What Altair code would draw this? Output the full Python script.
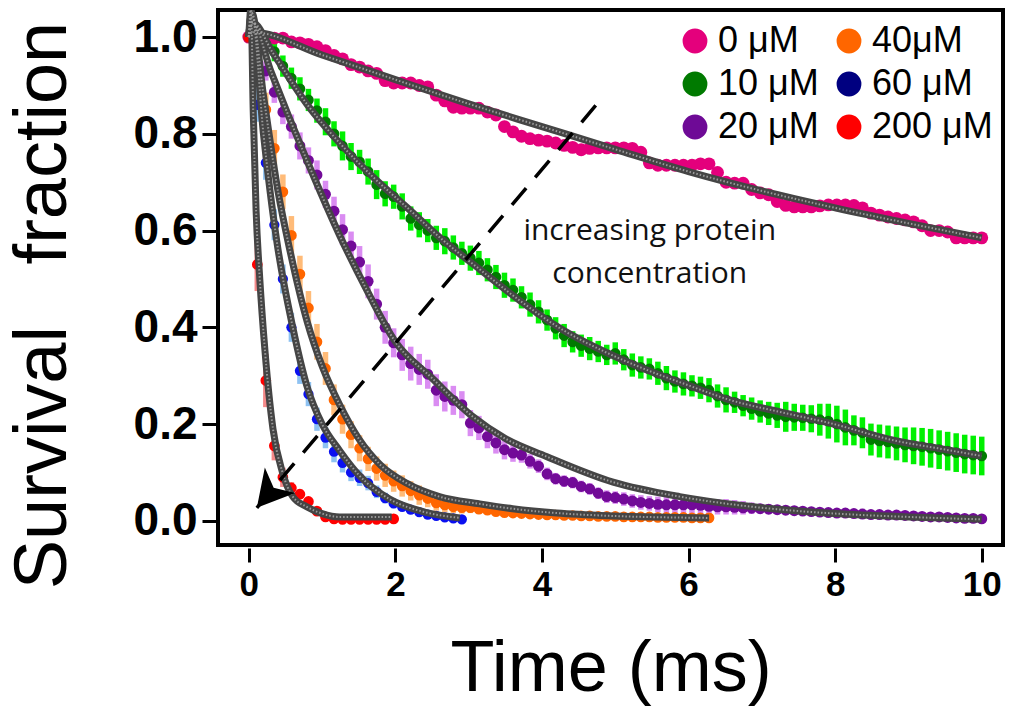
import altair as alt
import pandas as pd

# ---------------- data ----------------
DT = 10 / 86  # sampling step of the traces (ms)

series = ["0 μM", "10 μM", "20 μM", "40μM", "60 μM", "200 μM"]
legend_colors = ["#E4007C", "#007A00", "#6E0A96", "#FF6600", "#000080", "#FF0000"]
dot_colors = {"0 μM": "#E4007C", "10 μM": "#007A00", "20 μM": "#720A98",
              "40μM": "#FF6600", "60 μM": "#0A10F0", "200 μM": "#FF0000"}
err_colors = {"10 μM": "#00F000", "20 μM": "#DA8CF2", "40μM": "#FFBB78",
              "60 μM": "#8EC2F2", "200 μM": "#F58A8A"}
dot_sizes = {"0 μM": 165, "10 μM": 115, "20 μM": 120, "40μM": 115, "60 μM": 105, "200 μM": 115}

pink_vals = [1.000, 1.000, 0.997, 0.998, 0.998, 0.990, 0.988, 0.985, 0.980, 0.972,
             0.962, 0.955, 0.943, 0.938, 0.930, 0.925, 0.910, 0.905, 0.905, 0.905,
             0.900, 0.897, 0.880, 0.868, 0.855, 0.853, 0.853, 0.853, 0.845, 0.839,
             0.815, 0.804, 0.795, 0.790, 0.787, 0.785, 0.781, 0.776, 0.772, 0.767,
             0.770, 0.771, 0.771, 0.771, 0.771, 0.770, 0.762, 0.740, 0.735, 0.735,
             0.735, 0.735, 0.735, 0.738, 0.738, 0.720, 0.700, 0.698, 0.698, 0.685,
             0.678, 0.674, 0.660, 0.652, 0.649, 0.649, 0.649, 0.651, 0.653, 0.653,
             0.653, 0.652, 0.647, 0.636, 0.632, 0.628, 0.625, 0.622, 0.618, 0.610,
             0.600, 0.600, 0.597, 0.585, 0.585, 0.585, 0.585]

green_vals = [1.000, 0.995, 0.985, 0.970, 0.940, 0.915, 0.893, 0.870, 0.848, 0.825,
              0.800, 0.775, 0.753, 0.742, 0.722, 0.695, 0.676, 0.670, 0.650, 0.625,
              0.612, 0.600, 0.585, 0.578, 0.565, 0.553, 0.543, 0.533, 0.519, 0.504,
              0.487, 0.477, 0.462, 0.447, 0.432, 0.415, 0.398, 0.383, 0.370, 0.362,
              0.356, 0.350, 0.343, 0.346, 0.333, 0.322, 0.317, 0.314, 0.305, 0.295,
              0.288, 0.283, 0.279, 0.275, 0.270, 0.258, 0.250, 0.245, 0.238, 0.232,
              0.226, 0.222, 0.218, 0.215, 0.214, 0.213, 0.211, 0.209, 0.206, 0.200,
              0.193, 0.187, 0.182, 0.168, 0.165, 0.163, 0.160, 0.157, 0.155, 0.153,
              0.150, 0.147, 0.144, 0.141, 0.138, 0.136, 0.134]
green_err = [0.005, 0.010, 0.015, 0.020, 0.022, 0.022, 0.024, 0.023, 0.025, 0.028,
             0.026, 0.030, 0.028, 0.025, 0.027, 0.030, 0.026, 0.025, 0.027, 0.025,
             0.026, 0.024, 0.025, 0.027, 0.025, 0.024, 0.026, 0.025, 0.024, 0.025,
             0.026, 0.024, 0.023, 0.025, 0.024, 0.022, 0.023, 0.024, 0.022, 0.023,
             0.024, 0.022, 0.021, 0.023, 0.022, 0.024, 0.023, 0.022, 0.024, 0.025,
             0.023, 0.024, 0.022, 0.023, 0.025, 0.024, 0.026, 0.022, 0.022, 0.023,
             0.023, 0.024, 0.026, 0.031, 0.028, 0.027, 0.028, 0.033, 0.036, 0.038,
             0.037, 0.031, 0.032, 0.033, 0.034, 0.034, 0.035, 0.036, 0.038, 0.039,
             0.040, 0.040, 0.040, 0.040, 0.040, 0.040, 0.040]

purple_vals = [1.000, 0.975, 0.930, 0.886, 0.845, 0.815, 0.775, 0.745, 0.715, 0.675,
               0.640, 0.602, 0.568, 0.535, 0.495, 0.448, 0.400, 0.368, 0.343, 0.325,
               0.313, 0.303, 0.270, 0.257, 0.249, 0.240, 0.202, 0.192, 0.174, 0.161,
               0.147, 0.140, 0.136, 0.123, 0.113, 0.097, 0.087, 0.082, 0.079, 0.071,
               0.066, 0.057, 0.050, 0.048, 0.045, 0.041, 0.038, 0.036, 0.034, 0.033,
               0.033, 0.033, 0.033, 0.032, 0.030, 0.029, 0.029, 0.028, 0.027, 0.026,
               0.025, 0.024, 0.023, 0.022, 0.021, 0.020, 0.019, 0.018, 0.017, 0.016,
               0.016, 0.015, 0.014, 0.013, 0.013, 0.012, 0.012, 0.011, 0.010, 0.009,
               0.008, 0.008, 0.007, 0.006, 0.005, 0.005, 0.004]
purple_err = [0.005, 0.015, 0.020, 0.022, 0.025, 0.025, 0.028, 0.027, 0.030, 0.028,
              0.030, 0.032, 0.030, 0.033, 0.035, 0.032, 0.034, 0.030, 0.033, 0.035,
              0.032, 0.030, 0.033, 0.031, 0.030, 0.028, 0.027, 0.025, 0.024, 0.022,
              0.020, 0.018, 0.016, 0.015, 0.014, 0.013, 0.012, 0.012, 0.012, 0.012,
              0.012, 0.012, 0.013, 0.013, 0.014, 0.014, 0.015, 0.015, 0.016, 0.017,
              0.017, 0.017, 0.017, 0.017, 0.016, 0.016, 0.016, 0.015, 0.014, 0.012,
              0.010, 0.010, 0.009, 0.009, 0.008, 0.008, 0.008, 0.008, 0.008, 0.008,
              0.008, 0.008, 0.008, 0.008, 0.008, 0.008, 0.008, 0.008, 0.008, 0.008,
              0.008, 0.008, 0.008, 0.008, 0.008, 0.008, 0.008]

orange_vals = [1.000, 0.930, 0.850, 0.770, 0.680, 0.590, 0.510, 0.440, 0.370, 0.315,
               0.250, 0.210, 0.178, 0.150, 0.128, 0.108, 0.094, 0.082, 0.072, 0.062,
               0.053, 0.046, 0.037, 0.033, 0.029, 0.027, 0.027, 0.024, 0.022, 0.019,
               0.017, 0.016, 0.015, 0.014, 0.013, 0.012, 0.012, 0.011, 0.011, 0.010,
               0.010, 0.009, 0.009, 0.009, 0.008, 0.008, 0.008, 0.008, 0.007, 0.007,
               0.007, 0.007, 0.006, 0.006, 0.006]
orange_err = [0.010, 0.030, 0.035, 0.038, 0.036, 0.040, 0.038, 0.035, 0.037, 0.034,
              0.032, 0.030, 0.028, 0.027, 0.025, 0.025, 0.024, 0.022, 0.022, 0.020,
              0.020, 0.018, 0.016, 0.015, 0.013, 0.012, 0.011, 0.010, 0.009, 0.008,
              0.008, 0.007, 0.007, 0.006, 0.006, 0.006, 0.005, 0.005, 0.005, 0.005,
              0.005, 0.005, 0.005, 0.005, 0.005, 0.005, 0.005, 0.005, 0.005, 0.005,
              0.005, 0.005, 0.005, 0.005, 0.005]

blue_vals = [1.000, 0.860, 0.740, 0.612, 0.500, 0.400, 0.310, 0.262, 0.210, 0.172,
             0.143, 0.120, 0.100, 0.089, 0.078, 0.060, 0.047, 0.036, 0.029, 0.023,
             0.018, 0.013, 0.010, 0.007, 0.005, 0.003]
blue_err = [0.010, 0.035, 0.035, 0.032, 0.030, 0.030, 0.027, 0.025, 0.024, 0.022,
            0.022, 0.020, 0.018, 0.017, 0.015, 0.013, 0.011, 0.010, 0.008, 0.007,
            0.006, 0.005, 0.005, 0.005, 0.005, 0.005]

red_vals = [1.000, 0.530, 0.290, 0.155, 0.090, 0.068, 0.055, 0.040, 0.020, 0.008,
            0.004, 0.003, 0.003, 0.003, 0.003, 0.003, 0.003, 0.004]
red_err = [0.010, 0.055, 0.055, 0.030, 0.020, 0.012, 0.010, 0.008, 0.006, 0.004,
           0.003, 0.003, 0.003, 0.003, 0.003, 0.003, 0.003, 0.003]

# fitted curves
pink_fit_t = [0.0, 0.05, 1, 2, 3, 4, 5, 6, 7, 8, 9, 10]
pink_fit_v = [1.0, 1.01, 0.963, 0.912, 0.862, 0.815, 0.768, 0.722, 0.682, 0.647, 0.615, 0.585]
green_fit_t = [0.0, 0.05, 0.33, 0.8, 1.24, 1.7, 2.15, 2.65, 3.15, 3.7, 4.28, 4.85, 5.43, 6.0, 6.56, 7.25, 7.93, 8.84, 9.4, 10.0]
green_fit_v = [1.0, 1.03, 0.967, 0.86, 0.781, 0.71, 0.649, 0.58, 0.52, 0.455, 0.395, 0.35, 0.312, 0.28, 0.25, 0.225, 0.202, 0.165, 0.15, 0.134]
purple_fit_t = [0.0, 0.05, 0.3, 0.79, 1.24, 1.6, 2.0, 2.5, 3.06, 3.5, 4.06, 4.97, 5.88, 6.7, 8.0, 9.0, 10.0]
purple_fit_v = [1.0, 1.03, 0.93, 0.746, 0.59, 0.48, 0.37, 0.295, 0.215, 0.17, 0.133, 0.08, 0.05, 0.032, 0.015, 0.008, 0.003]
orange_fit_t = [0.0, 0.04, 0.2, 0.4, 0.56, 0.8, 1.0, 1.24, 1.5, 1.8, 2.15, 2.6, 3.15, 3.6, 4.2, 4.97, 6.28]
orange_fit_v = [1.0, 1.05, 0.88, 0.68, 0.56, 0.41, 0.32, 0.24, 0.17, 0.115, 0.078, 0.05, 0.035, 0.025, 0.016, 0.01, 0.006]
blue_fit_t = [0.0, 0.04, 0.2, 0.38, 0.6, 0.79, 1.0, 1.24, 1.5, 1.92, 2.4, 2.88]
blue_fit_v = [1.0, 1.05, 0.80, 0.58, 0.40, 0.28, 0.20, 0.145, 0.095, 0.045, 0.018, 0.006]
red_fit_t = [0.0, 0.03, 0.06, 0.1, 0.15, 0.22, 0.33, 0.46, 0.6, 0.79, 1.0, 1.24, 1.95]
red_fit_v = [1.0, 1.06, 0.85, 0.64, 0.50, 0.353, 0.19, 0.10, 0.05, 0.029, 0.015, 0.008, 0.008]

annot_lines = ["increasing protein", "concentration"]
annot_t = [5.47, 5.47]
annot_v = [0.581, 0.492]
arrow_t = [4.83, 0.11]
arrow_v = [0.876, 0.027]

x_ticks = [0, 2, 4, 6, 8, 10]
y_ticks = [0.0, 0.2, 0.4, 0.6, 0.8, 1.0]
y_title = "Survival\u00a0\u00a0\u00a0fraction"

# ---------------- tables ----------------
traces = {
    "0 μM": (pink_vals, None),
    "10 μM": (green_vals, green_err),
    "20 μM": (purple_vals, purple_err),
    "40μM": (orange_vals, orange_err),
    "60 μM": (blue_vals, blue_err),
    "200 μM": (red_vals, red_err),
}
fits = {
    "0 μM": (pink_fit_t, pink_fit_v),
    "10 μM": (green_fit_t, green_fit_v),
    "20 μM": (purple_fit_t, purple_fit_v),
    "40μM": (orange_fit_t, orange_fit_v),
    "60 μM": (blue_fit_t, blue_fit_v),
    "200 μM": (red_fit_t, red_fit_v),
}

rows, err_rows, fit_rows = [], [], []
for k, s in enumerate(series):
    vals, errs = traces[s]
    for i, v in enumerate(vals):
        t = i * DT
        rows.append({"series": s, "order": k, "t": t, "v": v,
                     "fillc": dot_colors[s], "sz": dot_sizes[s]})
        if errs is not None:
            err_rows.append({"series": s, "t": t, "v": v - errs[i], "hi": v + errs[i],
                             "ec": err_colors[s]})
    ft, fv = fits[s]
    for t, v in zip(ft, fv):
        fit_rows.append({"series": s, "t": t, "v": v})

dots_df = pd.DataFrame(rows)
err_df = pd.DataFrame(err_rows)
fit_df = pd.DataFrame(fit_rows)
legend_df = pd.DataFrame({"series": series, "t": [-5.0] * 6, "v": [0.5] * 6})
annot_df = pd.DataFrame({"label": annot_lines, "t": annot_t, "v": annot_v})
arrow_df = pd.DataFrame({"t": arrow_t, "v": arrow_v})
tip_df = arrow_df.iloc[[1]]

# ---------------- chart ----------------
xs = alt.Scale(domain=[-0.42, 10.29], nice=False, zero=False)
ys = alt.Scale(domain=[-0.05, 1.056], nice=False, zero=False)

X = alt.X("t:Q", scale=xs, axis=alt.Axis(values=x_ticks, format="d", title="Time (ms)"))
Y = alt.Y("v:Q", scale=ys, axis=alt.Axis(values=y_ticks, format=".1f", title=y_title))

errbars = alt.Chart(err_df).mark_rule(strokeWidth=5.5, strokeCap="butt", clip=True).encode(
    x=X, y=Y, y2="hi:Q",
    stroke=alt.Stroke("ec:N", scale=None),
)

dots = alt.Chart(dots_df).mark_circle(opacity=1, clip=True).encode(
    x=X, y=Y,
    fill=alt.Fill("fillc:N", scale=None),
    size=alt.Size("sz:Q", scale=None),
    order=alt.Order("order:Q"),
)

fit_base = alt.Chart(fit_df).mark_line(color="#454545", strokeWidth=7, clip=True,
                                       interpolate="monotone").encode(
    x=X, y=Y, detail="series:N")
fit_tex = alt.Chart(fit_df).mark_line(color="#9a9a9a", strokeWidth=2, strokeDash=[1.5, 2],
                                      clip=True, interpolate="monotone").encode(
    x=X, y=Y, detail="series:N")

legend_layer = alt.Chart(legend_df).mark_circle(opacity=1, clip=True).encode(
    x=X, y=Y,
    color=alt.Color("series:N", sort=series,
                    scale=alt.Scale(domain=series, range=legend_colors),
                    legend=alt.Legend(title=None, orient="none", legendX=459, legendY=13,
                                      columns=2, symbolType="circle", symbolSize=616,
                                      symbolStrokeWidth=0, symbolOpacity=1,
                                      labelFont="Liberation Sans", labelFontSize=36,
                                      labelColor="black", labelOffset=5,
                                      columnPadding=12, rowPadding=7, padding=0)),
)

arrow_line = alt.Chart(arrow_df).mark_line(color="black", strokeWidth=3.5,
                                           strokeDash=[22, 14]).encode(x=X, y=Y)
arrow_head = alt.Chart(tip_df).mark_point(
    shape="M0,0L1.1,2L0,1.45L-1.1,2Z", size=1300, angle=220, filled=True,
    color="black", opacity=1, strokeWidth=0).encode(x=X, y=Y)

annot = alt.Chart(annot_df).mark_text(font="Open Sans", fontSize=30, color="#111111",
                                      align="center", baseline="alphabetic").encode(
    x=X, y=Y, text="label:N")

chart = alt.layer(errbars, dots, fit_base, fit_tex, legend_layer, arrow_line, arrow_head, annot
                  ).properties(
    width=785, height=535,
    padding={"left": 218, "top": 10, "right": 18, "bottom": 168},
    autosize=alt.AutoSizeParams(type="none"),
).configure_view(
    stroke="black", strokeWidth=4
).configure_axis(
    grid=False, domain=False, ticks=True, tickColor="black", tickWidth=3,
    labelColor="black", labelFont="Liberation Sans", labelFontWeight="bold",
    titleFont="Liberation Sans", titleFontWeight="normal", titleColor="black",
).configure_axisX(
    tickSize=14, offset=3, labelFontSize=35, labelPadding=5,
    titleFontSize=72, titleBaseline="alphabetic", titleY=142,
).configure_axisY(
    tickSize=14, offset=2, labelFontSize=46, labelPadding=5,
    titleFontSize=74, titleAngle=-90, titleBaseline="middle", titleAlign="center",
    titleX=-173, titleY=295,
)

chart.save("out.html", embed_options={"renderer": "svg", "actions": False})
